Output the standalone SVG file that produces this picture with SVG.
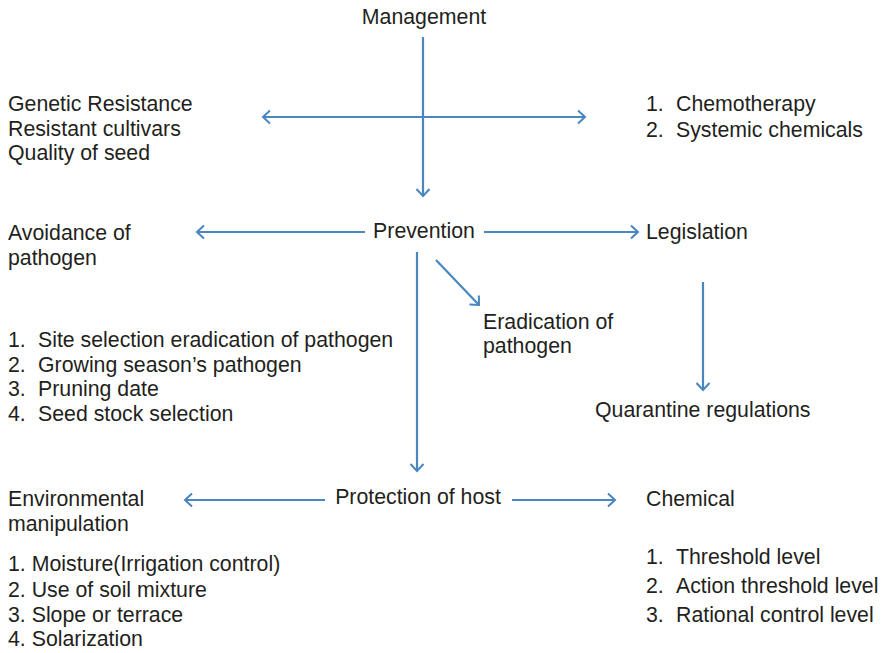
<svg xmlns="http://www.w3.org/2000/svg" width="884" height="653" viewBox="0 0 884 653">
<defs>
<style>
text{font-family:"Liberation Sans",Arial,Helvetica,sans-serif;font-size:21.3px;fill:#231f20}
.c{stroke:#4a86c0;stroke-width:2.2;fill:none;marker-end:url(#ah)}
.d{marker-start:url(#ah)}
</style>
<marker id="ah" markerUnits="userSpaceOnUse" markerWidth="14" markerHeight="16" refX="10" refY="8" orient="auto-start-reverse">
<path d="M3,1.5 L10,8 L3,14.5" fill="none" stroke="#4a86c0" stroke-width="2"/>
</marker>
</defs>
<rect width="884" height="653" fill="#fff"/>
<g id="connectors">
<line class="c" x1="423" y1="37" x2="423" y2="196"/>
<line class="c d" x1="263" y1="117" x2="585" y2="117"/>
<line class="c" x1="365" y1="232" x2="197" y2="232"/>
<line class="c" x1="484" y1="232" x2="638" y2="232"/>
<line class="c" x1="417" y1="252" x2="417" y2="471"/>
<line class="c" x1="436" y1="260" x2="479" y2="305"/>
<line class="c" x1="703" y1="282" x2="703" y2="390"/>
<line class="c" x1="325" y1="500" x2="185" y2="500"/>
<line class="c" x1="512" y1="500" x2="615" y2="500"/>
</g>
<g id="management"><text x="424" y="24" text-anchor="middle">Management</text></g>
<g id="genetic">
<text x="8" y="111">Genetic Resistance</text>
<text x="8" y="136">Resistant cultivars</text>
<text x="8" y="160">Quality of seed</text>
</g>
<g id="chemotherapy">
<text x="646" y="111">1.</text><text x="676" y="111">Chemotherapy</text>
<text x="646" y="137">2.</text><text x="676" y="137">Systemic chemicals</text>
</g>
<g id="prevention"><text x="424" y="238" text-anchor="middle">Prevention</text></g>
<g id="avoidance">
<text x="8" y="240">Avoidance of</text>
<text x="8" y="265">pathogen</text>
</g>
<g id="legislation"><text x="646" y="239">Legislation</text></g>
<g id="eradication">
<text x="483" y="329">Eradication of</text>
<text x="483" y="353">pathogen</text>
</g>
<g id="avoidance-list">
<text x="8" y="347">1.</text><text x="38" y="347">Site selection eradication of pathogen</text>
<text x="8" y="372">2.</text><text x="38" y="372">Growing season’s pathogen</text>
<text x="8" y="396">3.</text><text x="38" y="396">Pruning date</text>
<text x="8" y="421">4.</text><text x="38" y="421">Seed stock selection</text>
</g>
<g id="quarantine"><text x="595" y="417">Quarantine regulations</text></g>
<g id="protection"><text x="418" y="504" text-anchor="middle">Protection of host</text></g>
<g id="environmental">
<text x="8" y="506">Environmental</text>
<text x="8" y="531">manipulation</text>
</g>
<g id="environmental-list">
<text x="8" y="571">1. Moisture(Irrigation control)</text>
<text x="8" y="597">2. Use of soil mixture</text>
<text x="8" y="622">3. Slope or terrace</text>
<text x="8" y="646">4. Solarization</text>
</g>
<g id="chemical"><text x="646" y="506">Chemical</text></g>
<g id="chemical-list">
<text x="646" y="564">1.</text><text x="676" y="564">Threshold level</text>
<text x="646" y="593">2.</text><text x="676" y="593">Action threshold level</text>
<text x="646" y="622">3.</text><text x="676" y="622">Rational control level</text>
</g>
</svg>
